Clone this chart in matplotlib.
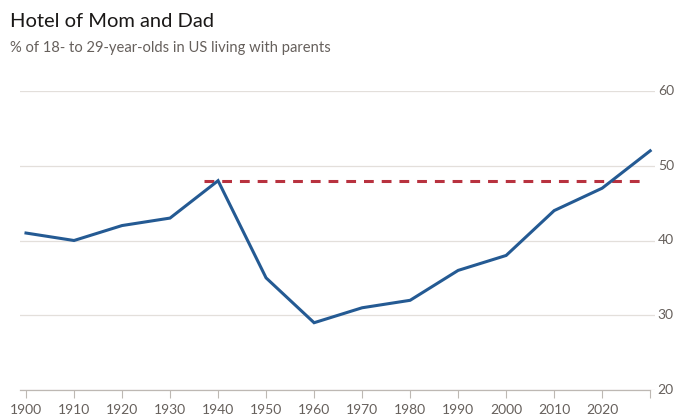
import matplotlib
matplotlib.use("Agg")
import matplotlib.pyplot as plt

years = [1900, 1910, 1920, 1930, 1940, 1950, 1960, 1970, 1980, 1990, 2000, 2010, 2020, 2030]
share = [41, 40, 42, 43, 48, 35, 29, 31, 32, 36, 38, 44, 47, 52]
ref_start, ref_end, ref_value = 1937, 2029, 48
xticks = list(range(1900, 2031, 10))
xlabels = [str(y) for y in range(1900, 2021, 10)] + [""]
yticks = [20, 30, 40, 50, 60]

plt.rcParams['font.family'] = ['Lato', 'DejaVu Sans']
fig = plt.figure(figsize=(6.75, 4.2), dpi=100)
ax = fig.add_axes([20/675, 1 - 390/420, (655 - 20)/675, (390 - 91)/420])
ax.set_xlim(1898.75, 2031.0)
ax.set_ylim(20, 60)

for y in yticks:
    ax.axhline(y, color='#e3dfdb', lw=0.9, zorder=0)

ax.plot([ref_start, ref_end], [ref_value, ref_value], color='#b8323f', lw=2.2,
        dashes=(3.2, 2.6), zorder=2)
ax.plot(years, share, color='#245a93', lw=2.2, zorder=3, solid_joinstyle='miter')

for s in ax.spines.values():
    s.set_visible(False)
ax.spines['bottom'].set_visible(True)
ax.spines['bottom'].set_color('#bdb8b3')
ax.spines['bottom'].set_linewidth(0.9)
ax.spines['bottom'].set_bounds(1898.75, 2030)

ax.set_xticks(xticks)
ax.set_xticklabels(xlabels)
ax.tick_params(axis='x', direction='out', length=6, width=0.8, color='#bdb8b3',
               labelcolor='#66605c', labelsize=10, pad=4)
ax.yaxis.tick_right()
ax.set_yticks(yticks)
ax.tick_params(axis='y', length=0, labelcolor='#66605c', labelsize=10, pad=2)
for lab in ax.get_yticklabels():
    lab.set_verticalalignment('center')

fig.text(10/675, 1 - 27/420, "Hotel of Mom and Dad", fontsize=14.5, color='#1a1817',
         ha='left', va='baseline')
fig.text(10/675, 1 - 52/420, "% of 18- to 29-year-olds in US living with parents",
         fontsize=10.6, color='#66605c', ha='left', va='baseline')

fig.savefig("out.png", dpi=100, facecolor='white')
